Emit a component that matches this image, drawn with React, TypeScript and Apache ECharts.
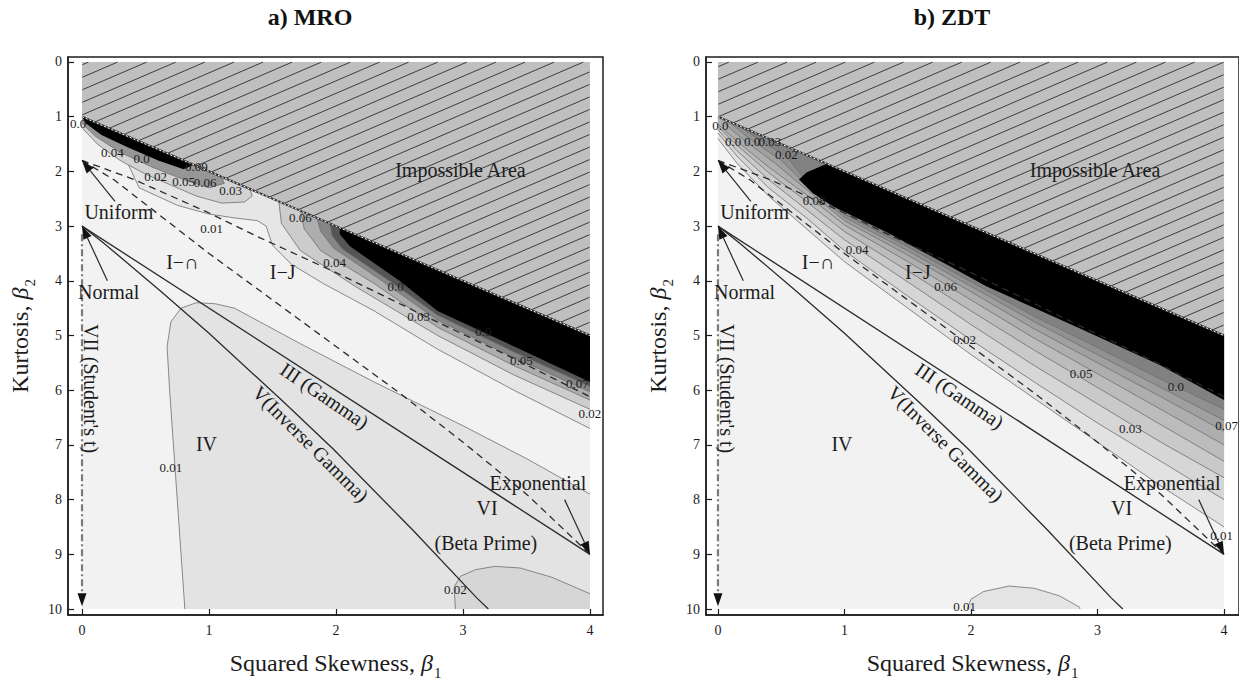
import React, { useEffect, useRef } from "react";
import * as echarts from "echarts";

// ---------------- axes / text ----------------
const X_TICKS = [0, 1, 2, 3, 4];
const Y_TICKS = [0, 1, 2, 3, 4, 5, 6, 7, 8, 9, 10];
const PANEL_TITLES = ["a) MRO", "b) ZDT"];

// ---------------- Pearson diagram reference geometry (β1, β2) ----------------
const DATA_CORNERS = [[0, 0], [4, 10]];
const IMPOSSIBLE_AREA = [[0, 0], [4, 0], [4, 5], [0, 1]];
const LIMIT_LINE = [[0, 1], [4, 5]];
const GAMMA_LINE = [[0, 3], [4, 9]];
const INV_GAMMA_CURVE = [[0, 3], [0.17, 3.31], [0.35, 3.66], [0.62, 4.19], [1.0, 4.96], [1.59, 6.22], [1.98, 7.08], [2.61, 8.57], [3.11, 9.8], [3.2, 10]];
const I_U_J_BORDER = [[0, 1.8], [0.4, 2.14], [0.75, 2.5], [1.0, 2.76], [1.38, 3.19], [2.0, 3.85], [2.75, 4.7], [3.4, 5.42], [4, 6.12]];
const I_J_CAP_BORDER = [[0, 1.8], [0.25, 2.15], [0.5, 2.6], [1.0, 3.5], [1.5, 4.35], [2.0, 5.2], [2.5, 6.05], [3.0, 6.95], [3.5, 7.9], [4, 9]];
const ARROW_UNIFORM = [[0.26, 2.55], [0, 1.8]];
const ARROW_NORMAL = [[0.2, 4.0], [0, 3]];
const ARROW_EXPONENTIAL = [[3.8, 8.0], [4, 9]];
const STUDENT_T_LINE = [[0, 3.15], [0, 9.95]];

const CLOSE_BOTTOM_RIGHT = [[4, 10]];
const CLOSE_LIMIT_END = [[4, 5]];
const CLOSE_LIMIT_START = [[0, 1]];
const CLOSE_LIMIT_BOTH = [[4, 5], [0, 1]];

const REGION_LABELS = ["Impossible Area", "Uniform", "Normal", "I\u2212\u2229", "I\u2212J", "IV", "VII (Student's t)", "III (Gamma)", "V(Inverse Gamma)", "Exponential", "VI", "(Beta Prime)"];
const REGION_LABEL_AT = [[2.98, 1.97], [0.29, 2.75], [0.21, 4.21], [0.79, 3.66], [1.58, 3.83], [0.98, 6.98], [0.07, 5.97], [1.91, 6.1], [1.8, 6.98], [3.59, 7.7], [3.19, 8.16], [3.18, 8.8]];

// ---------------- MRO contour curves (β1, β2) ----------------
const MRO_LOW_001 = [[0.81, 10], [0.78, 9], [0.75, 8], [0.72, 7], [0.69, 6], [0.67, 5.2], [0.7, 4.75], [0.78, 4.5], [0.9, 4.4], [1.05, 4.42], [1.2, 4.5], [1.4, 4.75], [1.72, 5.15], [2.3, 5.85], [3.0, 6.65], [3.5, 7.25], [4, 7.9]];
const MRO_BOTTOM_002 = [[2.94, 10], [2.93, 9.6], [2.98, 9.4], [3.1, 9.28], [3.25, 9.22], [3.45, 9.25], [3.7, 9.42], [4, 9.72]];
const MRO_UP_001 = [[0.3, 1.3], [0.35, 1.8], [0.45, 2.3], [0.75, 2.62], [1.0, 2.78], [1.2, 2.85], [1.38, 2.9], [1.45, 3.0], [1.5, 3.35], [1.65, 3.7], [1.9, 4.05], [2.3, 4.55], [2.8, 5.25], [3.4, 6.0], [4, 6.7]];
const MRO_UP_002 = [[1.55, 2.55], [1.57, 2.95], [1.72, 3.45], [2.15, 4.1], [2.8, 5.0], [3.4, 5.72], [4, 6.35]];
const MRO_UP_003 = [[1.72, 2.72], [1.75, 3.05], [1.88, 3.45], [2.3, 4.05], [2.8, 4.85], [3.4, 5.55], [4, 6.18]];
const MRO_UP_005 = [[1.85, 2.85], [1.88, 3.1], [1.98, 3.4], [2.35, 3.98], [2.8, 4.72], [3.4, 5.4], [4, 6.03]];
const MRO_UP_007 = [[1.95, 2.95], [1.97, 3.18], [2.05, 3.42], [2.42, 4.0], [2.8, 4.63], [3.4, 5.3], [4, 5.93]];
const MRO_UP_PEAK = [[2.03, 3.03], [2.03, 3.15], [2.11, 3.37], [2.5, 4.0], [2.8, 4.55], [3.42, 5.22], [4, 5.85]];
const MRO_CORNER_1 = [[1.32, 2.32], [1.34, 2.45], [1.28, 2.56], [1.1, 2.58], [0.9, 2.45], [0.7, 2.25], [0.5, 2.05], [0.3, 1.8], [0.12, 1.5], [0, 1.2]];
const MRO_CORNER_2 = [[1.1, 2.1], [1.12, 2.22], [1.0, 2.3], [0.8, 2.15], [0.55, 1.92], [0.3, 1.65], [0.1, 1.35], [0, 1.12]];
const MRO_CORNER_PEAK = [[0.88, 1.88], [0.8, 1.96], [0.6, 1.8], [0.35, 1.55], [0.15, 1.33], [0.03, 1.12]];
const MRO_LEVEL_TEXT = ["0.0", "0.04", "0.0", "0.02", "0.05", "0.06", "0.09", "0.03", "0.01", "0.06", "0.04", "0.0", "0.03", "0.0", "0.05", "0.07", "0.02", "0.01", "0.02"];
const MRO_LEVEL_AT = [[-0.03, 1.12], [0.24, 1.66], [0.47, 1.77], [0.58, 2.1], [0.8, 2.19], [0.97, 2.2], [0.9, 1.91], [1.17, 2.35], [1.02, 3.04], [1.72, 2.84], [1.99, 3.66], [2.47, 4.1], [2.65, 4.66], [3.16, 4.92], [3.46, 5.45], [3.9, 5.87], [4.0, 6.43], [0.7, 7.41], [2.94, 9.65]];

// ---------------- ZDT contour curves (β1, β2) ----------------
const ZDT_BOTTOM_001 = [[1.97, 10], [2.0, 9.82], [2.1, 9.68], [2.3, 9.58], [2.5, 9.62], [2.7, 9.76], [2.86, 9.97], [2.86, 10]];
const ZDT_C01 = [[0, 1.4], [0.15, 1.85], [0.4, 2.45], [0.7, 3.05], [1.0, 3.65], [1.5, 4.5], [2.0, 5.35], [2.5, 6.15], [3.0, 6.95], [3.5, 7.75], [4, 8.5]];
const ZDT_C02 = [[0, 1.3], [0.15, 1.72], [0.4, 2.3], [0.7, 2.85], [1.0, 3.45], [1.5, 4.28], [2.0, 5.08], [2.5, 5.85], [3.0, 6.6], [3.5, 7.3], [4, 8.0]];
const ZDT_C03 = [[0, 1.24], [0.15, 1.62], [0.4, 2.15], [0.7, 2.7], [1.0, 3.25], [1.5, 4.02], [2.0, 4.8], [2.5, 5.55], [3.0, 6.25], [3.5, 6.95], [4, 7.6]];
const ZDT_C04 = [[0, 1.18], [0.15, 1.52], [0.4, 2.02], [0.7, 2.55], [1.0, 3.1], [1.5, 3.82], [2.0, 4.55], [2.5, 5.27], [3.0, 5.95], [3.5, 6.63], [4, 7.3]];
const ZDT_C05 = [[0, 1.14], [0.15, 1.45], [0.4, 1.92], [0.7, 2.43], [1.0, 2.98], [1.5, 3.65], [2.0, 4.35], [2.5, 5.05], [3.0, 5.7], [3.5, 6.35], [4, 7.0]];
const ZDT_C06 = [[0.05, 1.12], [0.2, 1.42], [0.45, 1.85], [0.7, 2.33], [1.0, 2.9], [1.5, 3.53], [2.0, 4.2], [2.5, 4.88], [3.0, 5.5], [3.5, 6.12], [4, 6.75]];
const ZDT_C07 = [[0.1, 1.12], [0.25, 1.4], [0.5, 1.8], [0.7, 2.25], [1.0, 2.84], [1.5, 3.45], [2.0, 4.1], [2.5, 4.75], [3.0, 5.35], [3.5, 5.95], [4, 6.55]];
const ZDT_C08 = [[0.15, 1.15], [0.3, 1.38], [0.55, 1.75], [0.7, 2.18], [1.0, 2.79], [1.5, 3.38], [2.0, 4.02], [2.5, 4.65], [3.0, 5.22], [3.5, 5.8], [4, 6.35]];
const ZDT_PEAK = [[0.86, 1.86], [0.7, 2.02], [0.64, 2.15], [0.75, 2.4], [0.91, 2.64], [1.33, 3.11], [1.83, 3.73], [2.12, 4.1], [2.87, 4.88], [3.5, 5.55], [4, 6.18]];
const ZDT_LEVEL_TEXT = ["0.0", "0.0", "0.0", "0.03", "0.02", "0.08", "0.04", "0.06", "0.02", "0.05", "0.0", "0.03", "0.07", "0.01", "0.01"];
const ZDT_LEVEL_AT = [[0.02, 1.17], [0.12, 1.46], [0.27, 1.46], [0.41, 1.46], [0.54, 1.69], [0.76, 2.53], [1.1, 3.42], [1.8, 4.11], [1.95, 5.08], [2.87, 5.7], [3.62, 5.94], [3.26, 6.7], [4.02, 6.65], [3.98, 8.65], [1.95, 9.96]];

// ---------------- styles / layout ----------------
const FONT = "'Liberation Serif', 'DejaVu Serif', serif";
const INK = "#1c1c1c";
const CONTOUR_STROKE = "#6e6e6e";
const REGION_LABEL_ROT = [0, 0, 0, 0, 0, 0, -90, -34, -45, 0, 0, 0];
const GRIDS = [
  { left: 68, top: 57, width: 535, height: 560 },
  { left: 706, top: 57, width: 535, height: 560 },
];
const X_RANGE = [[-0.1102, 4.1024], [-0.0945, 4.1181]];
const Y_RANGE = [-0.091, 10.109];
const TITLE_X = [310, 952];

function band(curve, close, fill, stroke = true) {
  return { kind: "band", curve, close, fill, stroke };
}
function text(t, at, size, rot = 0) {
  return { kind: "text", text: t, at, size, rot };
}

function commonBack() {
  return [{ kind: "rect", from: DATA_CORNERS[0], to: DATA_CORNERS[1], fill: "#f2f2f2" }];
}
function commonFront() {
  const items: any[] = [
    { kind: "hatch", poly: IMPOSSIBLE_AREA },
    { kind: "line", pts: LIMIT_LINE, stroke: "#2a2a2a", width: 2 },
    { kind: "line", pts: LIMIT_LINE, stroke: "#ffffff", width: 1, dash: [2, 2] },
    { kind: "line", pts: I_U_J_BORDER, stroke: "#2a2a2a", width: 1.3, dash: [7, 5] },
    { kind: "line", pts: I_J_CAP_BORDER, stroke: "#2a2a2a", width: 1.3, dash: [7, 5] },
    { kind: "line", pts: GAMMA_LINE, stroke: "#2a2a2a", width: 1.3 },
    { kind: "line", pts: INV_GAMMA_CURVE, stroke: "#2a2a2a", width: 1.3 },
    { kind: "arrow", pts: STUDENT_T_LINE, stroke: "#7a7a7a", width: 2.2, dash: [7, 3, 2, 3] },
    { kind: "arrow", pts: ARROW_UNIFORM, stroke: "#2a2a2a", width: 1.2 },
    { kind: "arrow", pts: ARROW_NORMAL, stroke: "#2a2a2a", width: 1.2 },
    { kind: "arrow", pts: ARROW_EXPONENTIAL, stroke: "#2a2a2a", width: 1.2 },
  ];
  REGION_LABELS.forEach((t, i) => items.push(text(t, REGION_LABEL_AT[i], 20, REGION_LABEL_ROT[i])));
  return items;
}

function mroItems() {
  const items: any[] = commonBack();
  items.push(
    band(MRO_LOW_001, CLOSE_BOTTOM_RIGHT, "#e3e3e3"),
    band(MRO_BOTTOM_002, CLOSE_BOTTOM_RIGHT, "#d6d6d6"),
    band(MRO_UP_001, CLOSE_LIMIT_END, "#e6e6e6"),
    band(MRO_UP_002, CLOSE_LIMIT_END, "#cccccc"),
    band(MRO_UP_003, CLOSE_LIMIT_END, "#adadad"),
    band(MRO_UP_005, CLOSE_LIMIT_END, "#868686"),
    band(MRO_UP_007, CLOSE_LIMIT_END, "#555555"),
    band(MRO_UP_PEAK, CLOSE_LIMIT_END, "#000000", false),
    band(MRO_CORNER_1, CLOSE_LIMIT_START, "#d2d2d2"),
    band(MRO_CORNER_2, CLOSE_LIMIT_START, "#969696"),
    band(MRO_CORNER_PEAK, CLOSE_LIMIT_START, "#000000", false)
  );
  items.push(...commonFront());
  MRO_LEVEL_TEXT.forEach((t, i) => items.push(text(t, MRO_LEVEL_AT[i], 13)));
  return items;
}

function zdtItems() {
  const items: any[] = commonBack();
  items.push(
    band(ZDT_BOTTOM_001, [], "#e4e4e4"),
    band(ZDT_C01, CLOSE_LIMIT_BOTH, "#e2e2e2"),
    band(ZDT_C02, CLOSE_LIMIT_BOTH, "#d6d6d6"),
    band(ZDT_C03, CLOSE_LIMIT_BOTH, "#c9c9c9"),
    band(ZDT_C04, CLOSE_LIMIT_BOTH, "#bcbcbc"),
    band(ZDT_C05, CLOSE_LIMIT_BOTH, "#aeaeae"),
    band(ZDT_C06, CLOSE_LIMIT_BOTH, "#a0a0a0"),
    band(ZDT_C07, CLOSE_LIMIT_BOTH, "#919191"),
    band(ZDT_C08, CLOSE_LIMIT_BOTH, "#818181"),
    band(ZDT_PEAK, CLOSE_LIMIT_END, "#000000", false)
  );
  items.push(...commonFront());
  ZDT_LEVEL_TEXT.forEach((t, i) => items.push(text(t, ZDT_LEVEL_AT[i], 13)));
  return items;
}

function hatchSegments(poly: number[][], spacing: number, slope: number) {
  const dl = Math.hypot(1, slope);
  const d = [1 / dl, -slope / dl];
  const n = [slope / dl, 1 / dl];
  const cx = poly.reduce((s, p) => s + p[0], 0) / poly.length;
  const cy = poly.reduce((s, p) => s + p[1], 0) / poly.length;
  const edges = poly.map((a, i) => {
    const b = poly[(i + 1) % poly.length];
    let nx = -(b[1] - a[1]);
    let ny = b[0] - a[0];
    if (nx * (cx - a[0]) + ny * (cy - a[1]) < 0) {
      nx = -nx;
      ny = -ny;
    }
    return { a, nx, ny };
  });
  const proj = poly.map((p) => p[0] * n[0] + p[1] * n[1]);
  const smin = Math.min(...proj);
  const smax = Math.max(...proj);
  const segs: number[][][] = [];
  for (let s = Math.ceil(smin / spacing) * spacing; s <= smax; s += spacing) {
    const p0 = [n[0] * s, n[1] * s];
    let tmin = -1e9;
    let tmax = 1e9;
    let ok = true;
    for (const e of edges) {
      const f = e.nx * (p0[0] - e.a[0]) + e.ny * (p0[1] - e.a[1]);
      const g = e.nx * d[0] + e.ny * d[1];
      if (Math.abs(g) < 1e-12) {
        if (f < 0) {
          ok = false;
          break;
        }
        continue;
      }
      const t = -f / g;
      if (g > 0) tmin = Math.max(tmin, t);
      else tmax = Math.min(tmax, t);
    }
    if (ok && tmax - tmin > 1) {
      segs.push([
        [p0[0] + d[0] * (tmin + 0.5), p0[1] + d[1] * (tmin + 0.5)],
        [p0[0] + d[0] * (tmax - 0.5), p0[1] + d[1] * (tmax - 0.5)],
      ]);
    }
  }
  return segs;
}

function makeRenderer(items: any[]) {
  return (params: any, api: any) => {
    const it = items[params.dataIndex];
    const c = (p: number[]) => api.coord(p);
    const z2 = params.dataIndex;
    switch (it.kind) {
      case "rect": {
        const a = c(it.from);
        const b = c(it.to);
        return {
          type: "rect",
          z2,
          shape: { x: Math.min(a[0], b[0]), y: Math.min(a[1], b[1]), width: Math.abs(b[0] - a[0]), height: Math.abs(b[1] - a[1]) },
          style: { fill: it.fill },
        };
      }
      case "band": {
        const children: any[] = [
          { type: "polygon", z2, shape: { points: it.curve.concat(it.close).map(c) }, style: { fill: it.fill, stroke: null } },
        ];
        if (it.stroke) {
          children.push({ type: "polyline", z2, shape: { points: it.curve.map(c) }, style: { fill: null, stroke: CONTOUR_STROKE, lineWidth: 0.8 } });
        }
        return { type: "group", children };
      }
      case "hatch": {
        const pts = it.poly.map(c);
        const children: any[] = [{ type: "polygon", z2, shape: { points: pts }, style: { fill: "#bfbfbf" } }];
        hatchSegments(pts, 11.5, 0.43).forEach((s) => {
          children.push({ type: "line", z2, shape: { x1: s[0][0], y1: s[0][1], x2: s[1][0], y2: s[1][1] }, style: { stroke: "#3c3c3c", lineWidth: 1 } });
        });
        return { type: "group", children };
      }
      case "line":
        return {
          type: "polyline",
          z2,
          shape: { points: it.pts.map(c) },
          style: { fill: null, stroke: it.stroke, lineWidth: it.width, lineDash: it.dash || null },
        };
      case "arrow": {
        const a = c(it.pts[0]);
        const b = c(it.pts[1]);
        const len = Math.hypot(b[0] - a[0], b[1] - a[1]);
        const u = [(b[0] - a[0]) / len, (b[1] - a[1]) / len];
        const L = 13;
        const W = 4.5;
        const base = [b[0] - u[0] * L, b[1] - u[1] * L];
        const nrm = [-u[1], u[0]];
        return {
          type: "group",
          children: [
            { type: "line", z2, shape: { x1: a[0], y1: a[1], x2: base[0], y2: base[1] }, style: { stroke: it.stroke, lineWidth: it.width, lineDash: it.dash || null } },
            {
              type: "polygon",
              z2,
              shape: { points: [b, [base[0] + nrm[0] * W, base[1] + nrm[1] * W], [base[0] - nrm[0] * W, base[1] - nrm[1] * W]] },
              style: { fill: "#111111" },
            },
          ],
        };
      }
      case "text": {
        const p = c(it.at);
        return {
          type: "text",
          z2: 1000 + z2,
          x: p[0],
          y: p[1],
          rotation: (it.rot * Math.PI) / 180,
          style: {
            text: it.text,
            fill: INK,
            fontSize: it.size,
            fontFamily: FONT,
            align: "center",
            verticalAlign: "middle",
          },
        };
      }
    }
    return null;
  };
}

function axisName(main: string, sub: string) {
  return `{n|${main}}{g|\u03b2}{s|${sub}}`;
}
const NAME_RICH = {
  n: { fontFamily: FONT, fontSize: 24, lineHeight: 28, verticalAlign: "top", color: INK },
  g: { fontFamily: FONT, fontSize: 24, lineHeight: 28, verticalAlign: "top", fontStyle: "italic", color: INK },
  s: { fontFamily: FONT, fontSize: 15, lineHeight: 15, verticalAlign: "top", padding: [14, 0, 0, 1], color: INK },
};

function buildOption() {
  const panels = [mroItems(), zdtItems()];
  return {
    animation: false,
    backgroundColor: "#ffffff",
    graphic: PANEL_TITLES.map((t, i) => ({
      type: "text",
      x: TITLE_X[i],
      y: 17,
      style: { text: t, fill: "#111", fontFamily: FONT, fontWeight: "bold", fontSize: 24, align: "center", verticalAlign: "middle", textAlign: "center", textVerticalAlign: "middle" },
    })),
    grid: GRIDS.map((g) => ({ ...g, show: true, borderColor: "#1e1e1e", borderWidth: 1.5, backgroundColor: "#ffffff" })),
    xAxis: GRIDS.map((_, i) => ({
      type: "value",
      gridIndex: i,
      min: X_RANGE[i][0],
      max: X_RANGE[i][1],
      splitLine: { show: false },
      axisLine: { show: true, onZero: false, lineStyle: { color: "#1e1e1e", width: 1.5 } },
      axisTick: { show: true, inside: true, length: 6, customValues: X_TICKS, lineStyle: { color: "#1e1e1e", width: 1.2 } },
      axisLabel: { customValues: X_TICKS, margin: 8, fontFamily: FONT, fontSize: 14, color: INK },
      name: axisName("Squared Skewness, ", "1"),
      nameLocation: "middle",
      nameGap: 36,
      nameTextStyle: { rich: NAME_RICH },
    })),
    yAxis: GRIDS.map((_, i) => ({
      type: "value",
      gridIndex: i,
      inverse: true,
      min: Y_RANGE[0],
      max: Y_RANGE[1],
      splitLine: { show: false },
      axisLine: { show: true, onZero: false, lineStyle: { color: "#1e1e1e", width: 1.5 } },
      axisTick: { show: true, inside: true, length: 6, customValues: Y_TICKS, lineStyle: { color: "#1e1e1e", width: 1.2 } },
      axisLabel: { customValues: Y_TICKS, margin: 6, fontFamily: FONT, fontSize: 14, color: INK },
      name: axisName("Kurtosis, ", "2"),
      nameLocation: "middle",
      nameGap: 32,
      nameTextStyle: { rich: NAME_RICH },
    })),
    series: panels.map((items, i) => ({
      type: "custom",
      xAxisIndex: i,
      yAxisIndex: i,
      silent: true,
      clip: false,
      data: items.map(() => [0, 0]),
      encode: { x: 0, y: 1 },
      renderItem: makeRenderer(items),
    })),
  };
}

export default function App() {
  const ref = useRef<HTMLDivElement>(null);
  useEffect(() => {
    if (!ref.current) return;
    const chart = echarts.init(ref.current, undefined, { renderer: "svg" });
    chart.setOption(buildOption() as any);
    return () => chart.dispose();
  }, []);
  return <div ref={ref} style={{ position: "fixed", left: 0, top: 0, width: 1239, height: 685, background: "#fff" }} />;
}
